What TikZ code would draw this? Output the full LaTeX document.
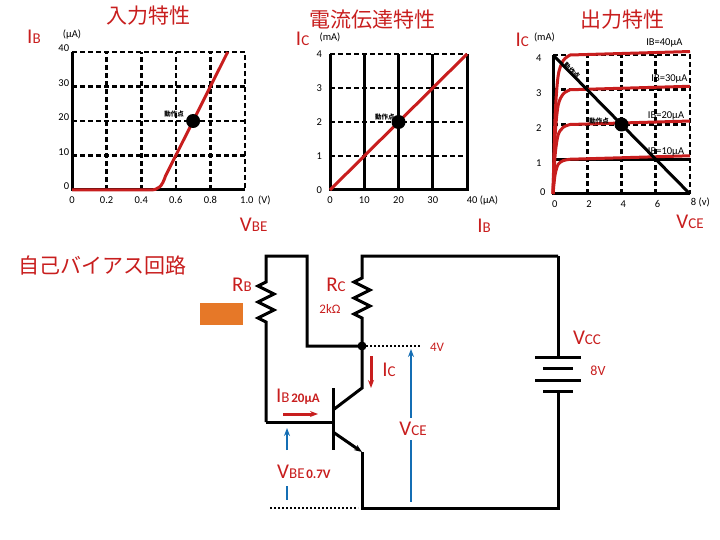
\documentclass[tikz,border=0pt]{standalone}
\usepackage{fontspec}
\usetikzlibrary{arrows.meta}
\setmainfont{Carlito}
\newfontfamily\jp{Noto Sans CJK JP}
\definecolor{rd}{RGB}{200,30,30}
\definecolor{bl}{RGB}{20,110,180}
\definecolor{org}{RGB}{230,120,40}
\newcommand{\lb}[2]{{\fontsize{21}{21}\selectfont #1}{\fontsize{15}{15}\selectfont #2}}
\begin{document}
\begin{tikzpicture}[x=1pt,y=-1pt,
  gd/.style={line width=2.6pt,dash pattern=on 5pt off 3pt},
  gs/.style={line width=3pt},
  tk/.style={font=\fontsize{10.5}{10.5}\selectfont,inner sep=1pt},
  ttl/.style={text=rd,font=\jp\fontsize{21}{21}\selectfont},
  rl/.style={text=rd,inner sep=0pt},
  cv/.style={rd,line width=3pt},
  wire/.style={line width=3pt},
  pt/.style={circle,fill=black,inner sep=0pt,minimum size=14pt},
  dz/.style={font=\jp\bfseries\fontsize{6.5}{6.5}\selectfont,inner sep=0pt}]
\useasboundingbox (0,0) rectangle (720,540);
\node[ttl] (t1) at (148,16) {入力特性};
\node[ttl] (t2) at (372,20) {電流伝達特性};
\node[ttl] (t3) at (622,20) {出力特性};
\node[ttl] (t4) at (103,266) {自己バイアス回路};
% graph 1
\begin{scope}[shift={(72,190)},x=173pt,y=3.45pt]
\foreach \v in {0.2,0.4,0.6,0.8} \draw[gd] (\v,0)--(\v,40);
\foreach \v in {10,20,30} \draw[gd] (0,\v)--(1,\v);
\draw[gd] (0,40)--(1,40)--(1,0);
\draw[gs] (0,40)--(0,0)--(1,0);
\draw[cv] (0,0)--(0.45,0) .. controls (0.5,0) and (0.52,1) .. (0.54,4) -- (0.9,40);
\node[pt] (p1) at (0.7,20) {};
\node[dz] (d1) at (0.59,22) {動作点};
\foreach \v in {0,10,20,30,40} \node[tk,anchor=east] (y\v) at (-0.01,\v+1) {\v};
\node[tk] (x0) at (0,-3) {0};
\foreach \v/\s in {0.2/0.2,0.4/0.4,0.6/0.6,0.8/0.8} \node[tk] (x\v) at (\v,-3) {\s};
\node[tk] (x1) at (1.06,-3) {1.0\ \ (V)};
\node[rl] (vbe) at (1.05,-10) {\lb{V}{BE}};
\node[rl] (ib) at (-0.22,44.5) {\lb{I}{B}};
\node[tk] (ua) at (0.0,45) {(μA)};
\end{scope}
% graph 2
\begin{scope}[shift={(330,190)},x=3.425pt,y=34pt]
\foreach \v in {10,20,30} \draw[gs] (\v,0)--(\v,4);
\foreach \v in {1,2,3} \draw[gd] (0,\v)--(40,\v);
\draw[gd] (0,4)--(40,4);
\draw[gs] (0,4)--(0,0)--(40,0)--(40,4);
\draw[cv] (0,0)--(40,4);
\node[pt] (p2) at (20,2) {};
\node[dz] (d2) at (16,2.15) {動作点};
\foreach \v in {0,1,2,3,4} \node[tk,anchor=east] (z\v) at (-2,\v) {\v};
\foreach \v in {0,10,20,30} \node[tk] (w\v) at (\v,-0.3) {\v};
\node[tk] (w40) at (44.5,-0.3) {40 (μA)};
\node[rl] (ib2) at (45,-1.05) {\lb{I}{B}};
\node[rl] (ic2) at (-8,4.45) {\lb{I}{C}};
\node[tk] (ma2) at (0,4.5) {(mA)};
\end{scope}
% graph 3
\begin{scope}[shift={(553,194)},x=17.125pt,y=34.75pt]
\foreach \v in {2,4,6} \draw[gd] (\v,0)--(\v,4);
\foreach \v in {2,3} \draw[gd] (0,\v)--(8,\v);
\draw[gd] (0,4)--(8,4)--(8,0);
\draw[gs] (0,1)--(8,1);
\draw[gs] (0,4)--(0,0)--(8,0);
\foreach \k in {1,2,3,4}
  \draw[cv,smooth] plot coordinates {(0,0) (0.12,0.55*\k) (0.3,0.85*\k) (0.6,0.96*\k) (1,\k)} -- (8,\k+0.1);
\draw[gs] (0,4)--(8,0);
\node[pt] (p3) at (4,2) {};
\node[dz] (d3) at (2.7,2.1) {動作点};
\node[dz,rotate=-45] (d4) at (1.1,3.55) {動作点};
\node[tk] (l40) at (6.5,4.35) {IB=40μA};
\node[tk] (l30) at (6.8,3.3) {IB=30μA};
\node[tk] (l20) at (6.6,2.25) {IB=20μA};
\node[tk] (l10) at (6.6,1.2) {IB=10μA};
\foreach \v in {1,2,3,4} \node[tk,anchor=east] (q\v) at (-0.6,\v-0.1) {\v};
\node[tk] (q0) at (-0.6,0.05) {0};
\foreach \v in {0,2,4,6} \node[tk] (r\v) at (\v+0.1,-0.28) {\v};
\node[tk] (r8) at (8.6,-0.25) {8 (v)};
\node[rl] (vce) at (8,-0.8) {\lb{V}{CE}};
\node[rl] (ic3) at (-1.8,4.45) {\lb{I}{C}};
\node[tk] (ma3) at (-0.5,4.5) {(mA)};
\end{scope}
% circuit
\coordinate (a1) at (266,256); \coordinate (a2) at (307,256);
\coordinate (c1) at (362,256); \coordinate (c2) at (558,256);
\coordinate (nd) at (362,346); \coordinate (a3) at (307,346);
\coordinate (bb) at (266,422); \coordinate (bs) at (333,422);
\coordinate (cl) at (362,388); \coordinate (ct) at (333,410);
\coordinate (et) at (333,432); \coordinate (el) at (362,452);
\coordinate (eb) at (362,508); \coordinate (rb) at (558,508);
\draw[wire] (bb)--(266,325)--++(0,-3)--++(-8,-4)--++(16,-8)--++(-16,-8)--++(16,-8)--++(-16,-8)--++(8,-4)--(266,275)--(a1)--(a2)--(a3)--(nd);
\draw[wire] (bb)--(bs);
\draw[wire] (c2)--(c1)--(362,275)--++(0,3)--++(-8,4)--++(16,8)--++(-16,8)--++(16,8)--++(-16,8)--++(8,4)--(362,325)--(nd)--(cl)--(ct);
\draw[wire] (333,388)--(333,450);
\draw[wire,-{Stealth[length=8pt]}] (et)--(el);
\draw[wire] (el)--(eb)--(rb)--(558,391);
\draw[wire] (c2)--(558,357);
\draw[wire] (535,357)--(581,357);
\draw[wire] (543,368)--(573,368);
\draw[wire] (535,380)--(581,380);
\draw[wire] (543,391)--(573,391);
\node[circle,fill=black,inner sep=0pt,minimum size=9pt] (nd0) at (nd) {};
\draw[line width=2pt,dotted] (nd)--(420,346);
\draw[line width=2pt,dotted] (270,508)--(358,508);
\fill[org] (200,303) rectangle (243,325);
\draw[bl,line width=2.5pt,-{Stealth[length=8pt]}] (411,440)--(411,349);
\draw[bl,line width=2.5pt] (411,440)--(411,502);
\fill[white] (395,418) rectangle (428,440);
\draw[bl,line width=2.5pt,-{Stealth[length=8pt]}] (287,450)--(287,428);
\draw[bl,line width=2.5pt] (287,486)--(287,500);
\draw[rd,line width=3pt,-{Stealth[length=8pt]}] (283,414)--(318,414);
\draw[rd,line width=3pt,-{Stealth[length=8pt]}] (371,356)--(371,388);
\node[rl] (tRB) at (242,285) {\lb{R}{B}};
\node[rl] (tRC) at (336,285) {\lb{R}{C}};
\node[rl,font=\fontsize{13}{13}\selectfont] (t2k) at (330,309) {2kΩ};
\node[rl,font=\fontsize{13}{13}\selectfont] (t4v) at (437,347) {4V};
\node[rl] (tIC) at (389,370) {\lb{I}{C}};
\node[rl,anchor=west] (tIB) at (276,397) {\lb{I}{B}\,{\fontsize{13}{13}\selectfont\bfseries 20μA}};
\node[rl] (tVCE) at (413,429) {\lb{V}{CE}};
\node[rl,anchor=west] (tVBE) at (277,472) {\lb{V}{BE}\,{\fontsize{13}{13}\selectfont\bfseries 0.7V}};
\node[rl] (tVCC) at (587,338) {\lb{V}{CC}};
\node[rl,font=\fontsize{14}{14}\selectfont] (t8v) at (598,371) {8V};
\end{tikzpicture}
\end{document}
